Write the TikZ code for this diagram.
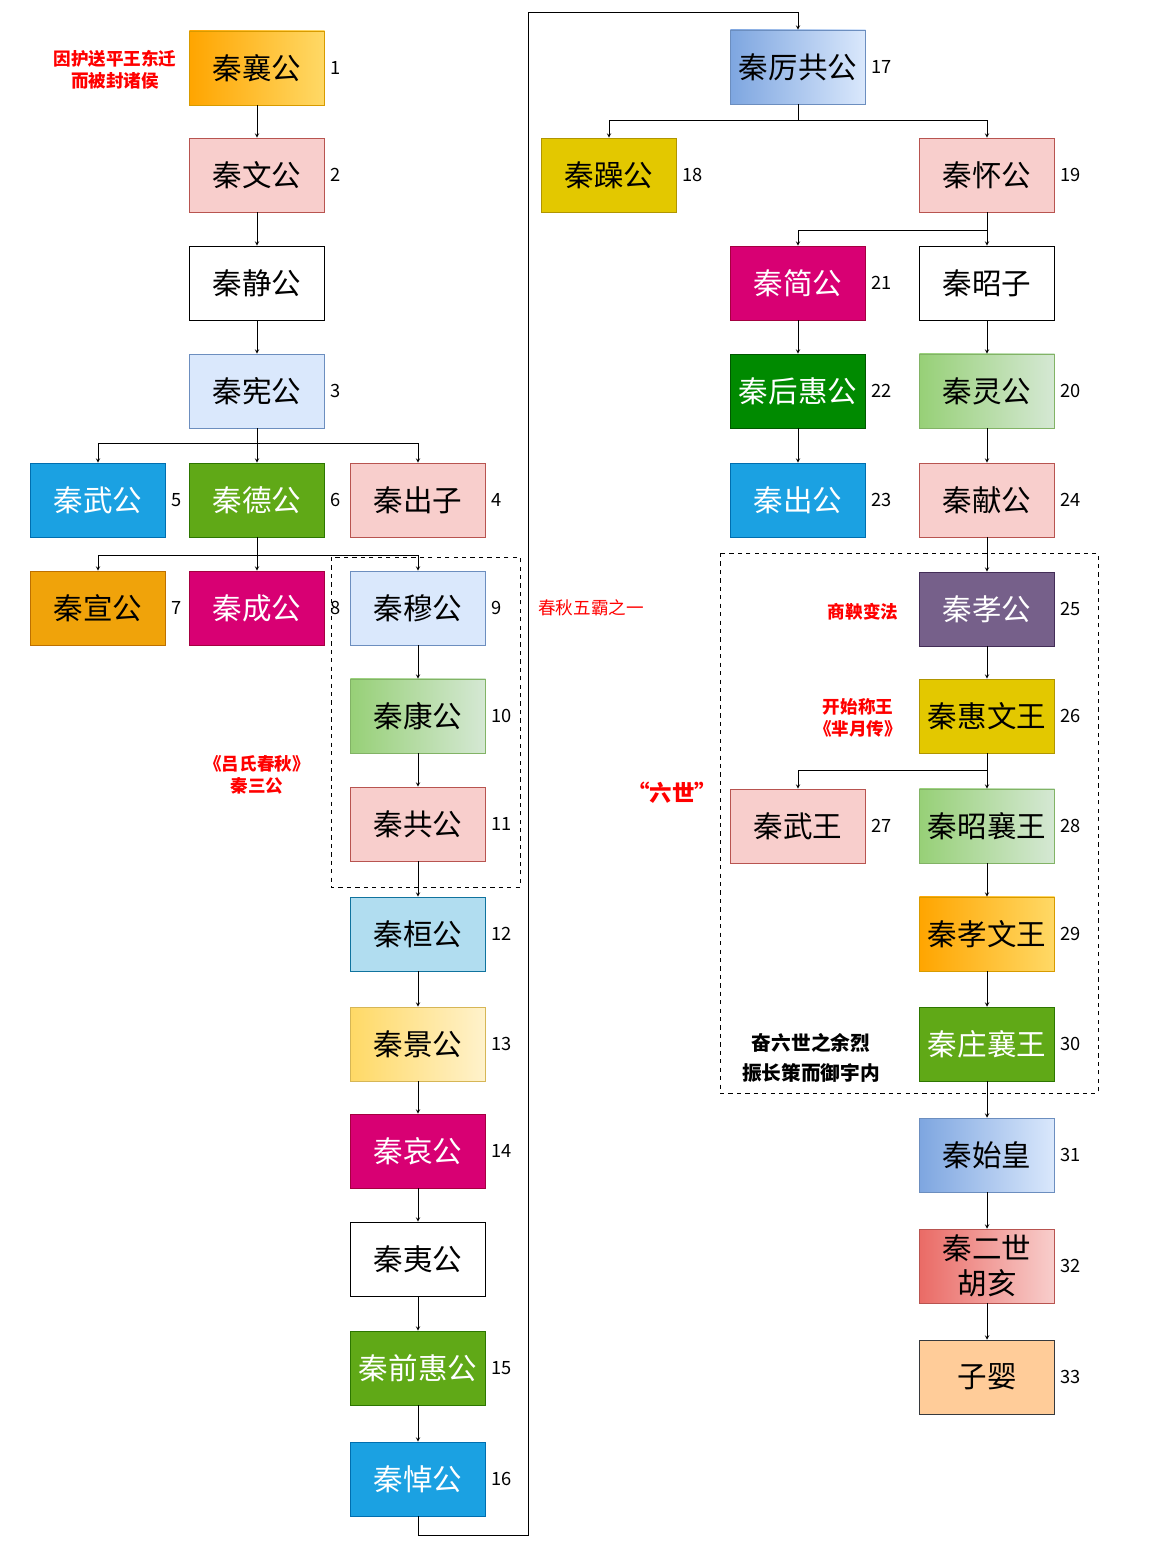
\documentclass[tikz,border=0pt]{standalone}
\usepackage{fontspec}
\setmainfont{Noto Sans CJK SC}
\usepackage{tikz}
\usetikzlibrary{arrows,positioning}
\tikzset{box/.style={draw,minimum width=3.375cm,minimum height=1.85cm,inner sep=0pt,font=\fontsize{21}{22}\selectfont}}
\tikzset{num/.style={font=\fontsize{13}{13}\selectfont,inner sep=1pt}}
\tikzset{note/.style={text=red,font=\bfseries\fontsize{12.5}{16}\selectfont,align=center}}
\tikzset{pink/.style={box,fill=pink0,draw=pinkD}}
\tikzset{plain/.style={box,fill=white,draw=black}}
\tikzset{lblue/.style={box,fill=blueL,draw=blueD}}
\tikzset{cyan/.style={box,fill=cyanF,draw=cyanD,text=white}}
\tikzset{grn/.style={box,fill=grnF,draw=grnD,text=white}}
\tikzset{mag/.style={box,fill=magF,draw=magD,text=white}}
\tikzset{org/.style={box,fill=orgF,draw=orgD}}
\tikzset{yel/.style={box,fill=yelF,draw=yelD}}
\tikzset{dgrn/.style={box,fill=dgrnF,draw=dgrnD,text=white}}
\tikzset{purp/.style={box,fill=purpF,draw=purpD,text=white}}
\tikzset{ggrn/.style={box,left color=ggrnA,right color=ggrnB,draw=ggrnD}}
\tikzset{gblue/.style={box,left color=gblueA,right color=blueL,draw=blueD}}
\tikzset{gorg/.style={box,left color=gorgA,right color=gorgB,draw=gorgD}}
\tikzset{gyel/.style={box,left color=gyelA,right color=gyelB,draw=gyelD}}
\tikzset{gred/.style={box,left color=gredA,right color=pink0,draw=pinkD}}
\definecolor{pink0}{HTML}{F8CECC}\definecolor{pinkD}{HTML}{B85450}
\definecolor{blueL}{HTML}{DAE8FC}\definecolor{blueD}{HTML}{6C8EBF}
\definecolor{cyanF}{HTML}{1BA1E2}\definecolor{cyanD}{HTML}{006EAF}
\definecolor{grnF}{HTML}{60A917}\definecolor{grnD}{HTML}{2D7600}
\definecolor{magF}{HTML}{D80073}\definecolor{magD}{HTML}{A50040}
\definecolor{orgF}{HTML}{F0A30A}\definecolor{orgD}{HTML}{BD7000}
\definecolor{yelF}{HTML}{E3C800}\definecolor{yelD}{HTML}{B09500}
\definecolor{dgrnF}{HTML}{008A00}\definecolor{dgrnD}{HTML}{005700}
\definecolor{purpF}{HTML}{76608A}\definecolor{purpD}{HTML}{432D57}
\definecolor{ggrnA}{HTML}{97D077}\definecolor{ggrnB}{HTML}{D5E8D4}\definecolor{ggrnD}{HTML}{82B366}
\definecolor{gblueA}{HTML}{7EA6E0}
\definecolor{gorgA}{HTML}{FFA500}\definecolor{gorgB}{HTML}{FFD966}\definecolor{gorgD}{HTML}{D79B00}
\definecolor{gyelA}{HTML}{FFD966}\definecolor{gyelB}{HTML}{FFF2CC}\definecolor{gyelD}{HTML}{D6B656}
\definecolor{gredA}{HTML}{EA6B66}
\definecolor{cyan2F}{HTML}{B1DDF0}\definecolor{cyan2D}{HTML}{10739E}
\definecolor{peachF}{HTML}{FFCC99}\definecolor{peachD}{HTML}{36393D}
\begin{document}
\begin{tikzpicture}[x=0.025cm,y=-0.025cm,>=stealth]
  \useasboundingbox (0,0) rectangle (1162,1550);
  % left columns
  \node[gorg] (s1) at (257,68) {秦襄公};
  \node[pink] (s2) at (257,175) {秦文公};
  \node[plain] (sJ) at (257,283) {秦静公};
  \node[lblue] (s3) at (257,391) {秦宪公};
  \node[cyan] (s5) at (98,500) {秦武公};
  \node[grn] (s6) at (257,500) {秦德公};
  \node[pink] (s4) at (418,500) {秦出子};
  \node[org] (s7) at (98,608) {秦宣公};
  \node[mag] (s8) at (257,608) {秦成公};
  \node[lblue] (s9) at (418,608) {秦穆公};
  \node[ggrn] (s10) at (418,716) {秦康公};
  \node[pink] (s11) at (418,824) {秦共公};
  \node[box,fill=cyan2F,draw=cyan2D] (s12) at (418,934) {秦桓公};
  \node[gyel] (s13) at (418,1044) {秦景公};
  \node[mag] (s14) at (418,1151) {秦哀公};
  \node[plain] (sY) at (418,1259) {秦夷公};
  \node[grn] (s15) at (418,1368) {秦前惠公};
  \node[cyan] (s16) at (418,1479) {秦悼公};
  % right columns
  \node[gblue] (s17) at (798,67) {秦厉共公};
  \node[yel] (s18) at (609,175) {秦躁公};
  \node[pink] (s19) at (987,175) {秦怀公};
  \node[mag] (s21) at (798,283) {秦简公};
  \node[plain] (sZ) at (987,283) {秦昭子};
  \node[dgrn] (s22) at (798,391) {秦后惠公};
  \node[ggrn] (s20) at (987,391) {秦灵公};
  \node[cyan] (s23) at (798,500) {秦出公};
  \node[pink] (s24) at (987,500) {秦献公};
  \node[purp] (s25) at (987,609) {秦孝公};
  \node[yel] (s26) at (987,716) {秦惠文王};
  \node[pink] (s27) at (798,826) {秦武王};
  \node[ggrn] (s28) at (987,826) {秦昭襄王};
  \node[gorg] (s29) at (987,934) {秦孝文王};
  \node[grn] (s30) at (987,1044) {秦庄襄王};
  \node[gblue] (s31) at (987,1155) {秦始皇};
  \node[gred,align=center,font=\fontsize{21}{25}\selectfont] (s32) at (987,1266) {秦二世\\胡亥};
  \node[box,fill=peachF,draw=peachD] (s33) at (987,1377) {子婴};
  % numbers
  \foreach \n in {1,...,33}
    \node[num,right=3pt of s\n] {\n};
  % arrows
  \foreach \a/\b in {s1/s2,s2/sJ,sJ/s3,s3/s6,s6/s8,s9/s10,s10/s11,s11/s12,s12/s13,s13/s14,s14/sY,sY/s15,s15/s16,
                     s21/s22,s22/s23,sZ/s20,s20/s24,s24/s25,s25/s26,s26/s28,s28/s29,s29/s30,s30/s31,s31/s32,s32/s33}
    \draw[->] (\a) -- (\b);
  \draw[->] (s3.south) -- ++(0,15) -| (s5.north);
  \draw[->] (s3.south) -- ++(0,15) -| (s4.north);
  \draw[->] (s6.south) -- ++(0,18) -| (s7.north);
  \draw[->] (s6.south) -- ++(0,18) -| (s9.north);
  \draw[->] (s16.south) -- ++(0,19) -| (528,12) -| (s17.north);
  \draw[->] (s17.south) -- ++(0,16) -| (s18.north);
  \draw[->] (s17.south) -- ++(0,16) -| (s19.north);
  \draw[->] (s19.south) -- ++(0,18) -| (s21.north);
  \draw[->] (s19.south) -- ++(0,18) -| (sZ.north);
  \draw[->] (s26.south) -- ++(0,17) -| (s27.north);
  % groups
  \draw[dashed] (331,557) rectangle (520,887);
  \draw[dashed] (720,553) rectangle (1098,1093);
  % notes
  \node[note] (nA) at (115,70) {因护送平王东迁\\而被封诸侯};
  \node[note,font=\fontsize{12.5}{16}\selectfont] (nB) at (591,608) {春秋五霸之一};
  \node[note] (nC) at (257,775) {《吕氏春秋》\\秦三公};
  \node[note] (nD) at (863,612) {商鞅变法};
  \node[note] (nE) at (858,718) {开始称王\\《芈月传》};
  \node[note,font=\bfseries\fontsize{16}{18}\selectfont] (nF) at (672,793) {“六世”};
  \node[note,text=black,font=\bfseries\fontsize{14}{21}\selectfont] (nG) at (811,1058) {奋六世之余烈\\振长策而御宇内};
\end{tikzpicture}
\end{document}
